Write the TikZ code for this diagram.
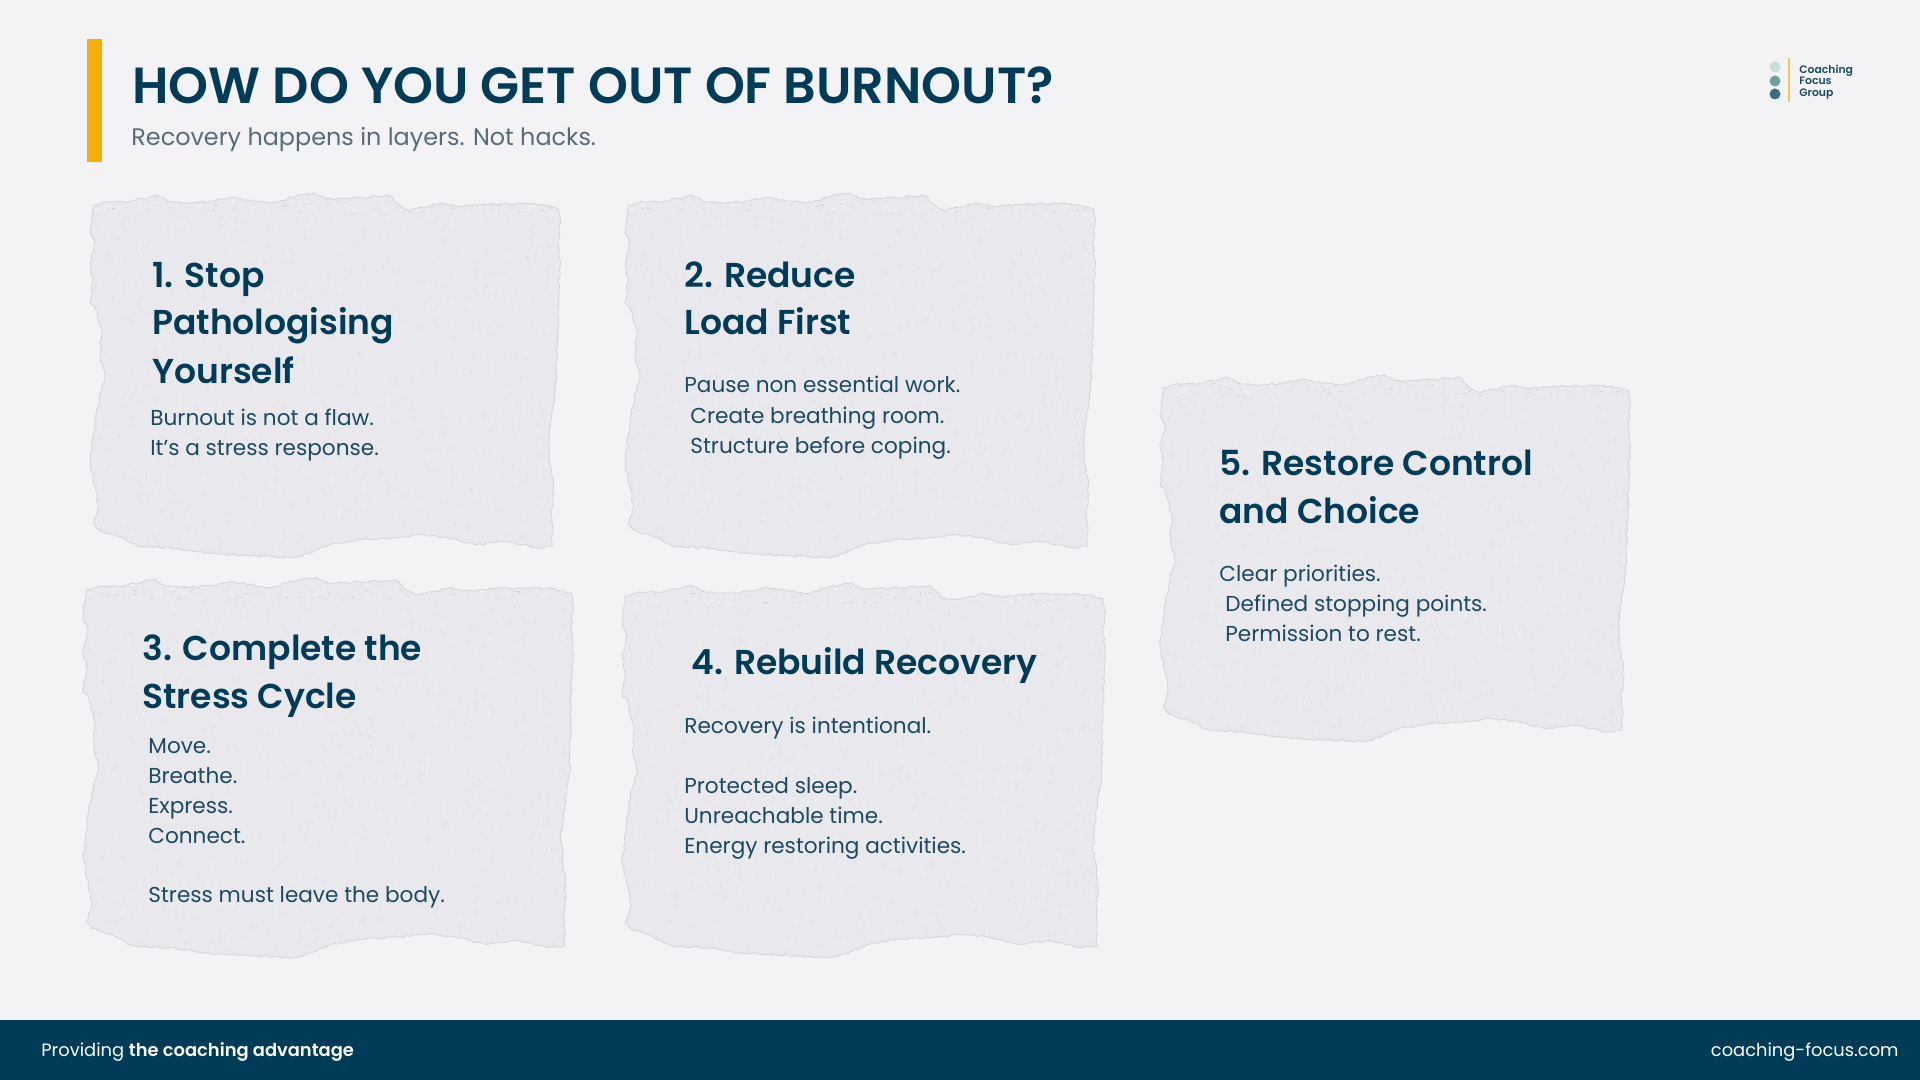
\documentclass[tikz,border=0pt]{standalone}
\usepackage{fontspec}
\usetikzlibrary{decorations.pathmorphing}
\setmainfont{Poppins}
\newfontfamily\headfont{Poppins SemiBold}
\definecolor{pagebg}{HTML}{F3F3F6}
\definecolor{navy}{HTML}{003C57}
\definecolor{bodyink}{HTML}{1C4A60}
\definecolor{subink}{HTML}{566C78}
\definecolor{amber}{HTML}{F5AE0B}
\definecolor{paperfill}{HTML}{E8E8ED}
\definecolor{paperedge}{HTML}{C4C4CC}
\definecolor{dotlight}{HTML}{C5DED8}
\definecolor{dotmid}{HTML}{6FA09E}
\definecolor{dotdark}{HTML}{3B6E7C}
\tikzset{
	headtext/.style={anchor=base west,inner sep=0pt,text=navy,font=\headfont\fontsize{17.25}{18}\selectfont},
	bodytext/.style={anchor=base west,inner sep=0pt,text=bodyink,font=\fontsize{10.8}{14}\selectfont},
	foottext/.style={anchor=base west,inner sep=0pt,text=white,font=\fontsize{8.93}{12}\selectfont},
	tornedge/.style={decorate,decoration={random steps,segment length=1.6pt,amplitude=0.55pt}},
}
\def\tornpath{(10,37) -- (55,27) -- (125,24) -- (200,7) -- (235,24) -- (305,30) -- (375,24) -- (425,12) -- (495,24) -- (545,30) -- (605,12) -- (670,0) -- (705,17) -- (805,14) -- (900,7) -- (930,37) -- (955,50) -- (1005,42) -- (1055,30) -- (1105,40) -- (1175,34) -- (1255,32) -- (1355,34) -- (1405,47) -- (1410,92) -- (1405,142) -- (1410,222) -- (1405,312) -- (1405,382) -- (1400,482) -- (1400,562) -- (1385,662) -- (1375,742) -- (1380,812) -- (1390,882) -- (1385,962) -- (1387,1062) -- (1335,1067) -- (1255,1047) -- (1155,1057) -- (1075,1037) -- (995,1027) -- (915,1037) -- (815,1042) -- (715,1057) -- (665,1080) -- (615,1097) -- (515,1092) -- (425,1087) -- (345,1082) -- (245,1067) -- (145,1062) -- (85,1032) -- (25,1012) -- (10,992) -- (25,942) -- (15,882) -- (0,812) -- (5,772) -- (15,682) -- (30,602) -- (45,552) -- (30,492) -- (35,422) -- (15,342) -- (0,332) -- (10,262) -- (0,212) -- (15,152) -- (0,122) -- (5,72) -- cycle}
% x, y, width, height of one torn sheet
\newcommand{\tornpaper}[4]{
	\begin{scope}[shift={(#1,#2)},xscale=#3/1410,yscale=#4/1097]
		\pgfmathsetseed{4711}
		\fill[paperfill,tornedge] \tornpath;
		\begin{scope}
			\pgfmathsetseed{4711}
			\clip[tornedge] \tornpath;
			\foreach \i in {1,...,500}
			\draw[white,opacity=0.28,line width=0.6pt] (rnd*1410,rnd*1097) -- ++(rnd*14-7,rnd*20+6);
			\foreach \i in {1,...,220}
			\draw[paperedge,opacity=0.25,line width=0.4pt] (rnd*1410,rnd*1097) -- ++(rnd*14-7,rnd*16+6);
			% paler, frayed band under the top tear
			\foreach \i in {1,...,90}
			\draw[white,opacity=0.5,line width=0.5pt] (rnd*1410,rnd*45+20) -- ++(rnd*30-15,rnd*10-5);
			\foreach \i in {1,...,50}
			\draw[paperedge,opacity=0.7,line width=0.35pt] (rnd*1410,rnd*40+25) -- ++(rnd*24-12,rnd*8-4);
		\end{scope}
		\pgfmathsetseed{4711}
		\draw[paperedge,opacity=0.6,line width=0.4pt,tornedge] \tornpath;
	\end{scope}
}
\begin{document}
\begin{tikzpicture}[x=0.5pt,y=-0.5pt]
	\useasboundingbox (0,0) rectangle (1920,1080);
	\fill[pagebg] (0,0) rectangle (1920,1080);
	\fill[amber] (87,39) rectangle (102,162);
	\node[headtext,font=\headfont\fontsize{25.4}{26}\selectfont] (title) at (132,104) {HOW DO YOU GET OUT OF BURNOUT?};
	\node[bodytext,text=subink,font=\fontsize{11.95}{14}\selectfont] (subtitle) at (131,146) {Recovery happens in layers. Not hacks.};

	% logo
	\fill[dotlight] (1775,67) circle (5.5);
	\fill[dotmid] (1775,81) circle (5.5);
	\fill[dotdark] (1775,94) circle (5.5);
	\draw[amber!70!white,line width=0.6pt] (1789,58) -- (1789,102);
	\foreach \y/\t in {74/Coaching,85/Focus,97/Group}
	\node[headtext,text=bodyink,font=\headfont\fontsize{5.4}{6}\selectfont] (logo\t) at (1799,\y) {\t};

	% sheets
	\tornpaper{90}{193}{470}{365}
	\tornpaper{625}{193}{470}{365}
	\tornpaper{83}{577}{490}{381}
	\tornpaper{622}{583}{483}{375}
	\tornpaper{1160}{375}{470}{367}

	% sheet 1
	\foreach \y/\t in {288/1. Stop,335/Pathologising,383/Yourself}
	\node[headtext] (headA\y) at (152,\y) {\t};
	\foreach \y/\t in {425/Burnout is not a flaw.,455/It’s a stress response.}
	\node[bodytext] (bodyA\y) at (150,\y) {\t};

	% sheet 2
	\foreach \y/\t in {288/2. Reduce,335/Load First}
	\node[headtext] (headB\y) at (684,\y) {\t};
	\node[bodytext] (bodyB) at (684,393) {Pause non essential work.};
	\foreach \y/\t in {423/Create breathing room.,453/Structure before coping.}
	\node[bodytext] (bodyB\y) at (690,\y) {\t};

	% sheet 3
	\foreach \y/\t in {660/3. Complete the,708/Stress Cycle}
	\node[headtext] (headC\y) at (142,\y) {\t};
	\foreach \y/\t in {753/Move.,783/Breathe.,813/Express.,843/Connect.,902/Stress must leave the body.}
	\node[bodytext] (bodyC\y) at (148,\y) {\t};

	% sheet 4
	\node[headtext] (headD) at (691,674) {4. Rebuild Recovery};
	\foreach \y/\t in {733/Recovery is intentional.,793/Protected sleep.,823/Unreachable time.,853/Energy restoring activities.}
	\node[bodytext] (bodyD\y) at (684,\y) {\t};

	% sheet 5
	\foreach \y/\t in {475/5. Restore Control,523/and Choice}
	\node[headtext] (headE\y) at (1219,\y) {\t};
	\node[bodytext] (bodyE) at (1219,581) {Clear priorities.};
	\foreach \y/\t in {611/Defined stopping points.,641/Permission to rest.}
	\node[bodytext] (bodyE\y) at (1225,\y) {\t};

	% footer
	\fill[navy] (0,1020) rectangle (1920,1080);
	\node[foottext] (slogan) at (41,1056) {Providing {\headfont the coaching advantage}};
	\node[foottext,anchor=base east] (website) at (1899,1056) {coaching-focus.com};
\end{tikzpicture}
\end{document}
